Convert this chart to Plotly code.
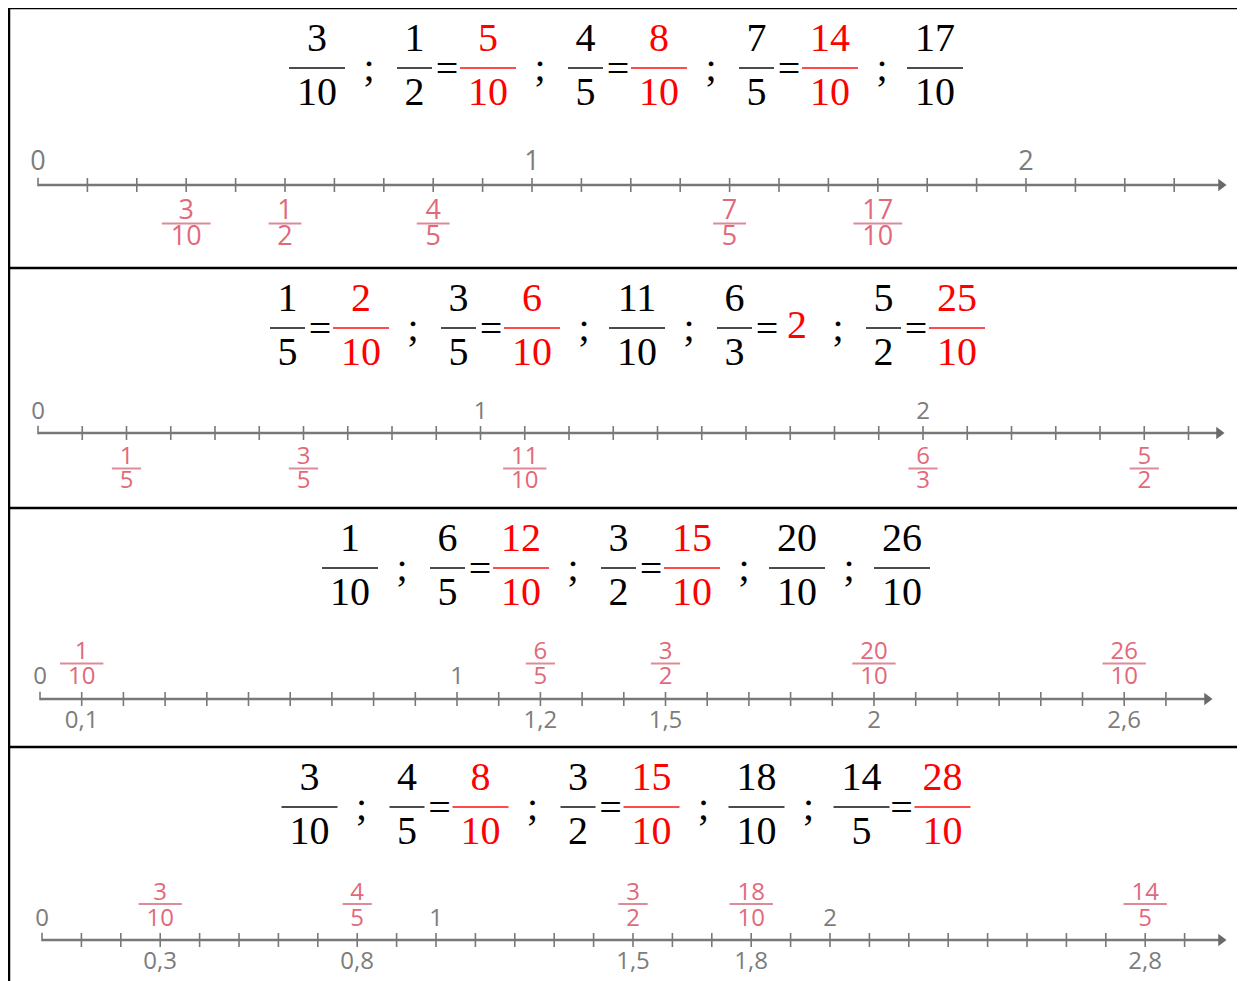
import plotly.graph_objects as go

W, H = 1245, 981
OFF = 8  # page body margin in the browser: shift the pixel scales so marks land where intended

# ---------------- data ----------------
# equation rows ("*" marks a red term)
row1_eq = "3/10 ; 1/2 = *5/10 ; 4/5 = *8/10 ; 7/5 = *14/10 ; 17/10"
row2_eq = "1/5 = *2/10 ; 3/5 = *6/10 ; 11/10 ; 6/3 = *2 ; 5/2 = *25/10"
row3_eq = "1/10 ; 6/5 = *12/10 ; 3/2 = *15/10 ; 20/10 ; 26/10"
row4_eq = "3/10 ; 4/5 = *8/10 ; 3/2 = *15/10 ; 18/10 ; 14/5 = *28/10"

line1_num = [3, 1, 4, 7, 17]
line1_den = [10, 2, 5, 5, 10]
line1_int = [0, 1, 2]

line2_num = [1, 3, 11, 6, 5]
line2_den = [5, 5, 10, 3, 2]
line2_int = [0, 1, 2]

line3_num = [1, 6, 3, 20, 26]
line3_den = [10, 5, 2, 10, 10]
line3_int = [0, 1]
line3_dec = [0.1, 1.2, 1.5, 2, 2.6]
line3_dec_lbl = ["0,1", "1,2", "1,5", "2", "2,6"]

line4_num = [3, 4, 3, 18, 14]
line4_den = [10, 5, 2, 10, 5]
line4_int = [0, 1, 2]
line4_dec = [0.3, 0.8, 1.5, 1.8, 2.8]
line4_dec_lbl = ["0,3", "0,8", "1,5", "1,8", "2,8"]

tick_step = 0.1
line_ticks_max = [2.3, 2.6, 2.7, 2.9]

# ---------------- styles ----------------
BLACK = "#000000"
RED = "#ff0000"
PINK = "#e2697a"
PINK_BAR = "#d25a6a"
GRAY = "#7c7c7c"
AXIS = "#787878"
SERIF = "Liberation Serif, Times New Roman, serif"
SANS = "Open Sans, Noto Sans, sans-serif"

panels = [
    dict(num=line1_num, den=line1_den, ints=line1_int, dec=None, dec_lbl=None,
         tmax=line_ticks_max[0], origin=38, unit=494, axis_y=185, tip=1227, fs=27,
         d_int=-22, d_num=27, d_bar=38.5, d_den=53, d_dec=None, eq=row1_eq, bar_y=68),
    dict(num=line2_num, den=line2_den, ints=line2_int, dec=None, dec_lbl=None,
         tmax=line_ticks_max[1], origin=38, unit=442.5, axis_y=433, tip=1225, fs=24,
         d_int=-20, d_num=24.5, d_bar=35.5, d_den=49, d_dec=None, eq=row2_eq, bar_y=328),
    dict(num=line3_num, den=line3_den, ints=line3_int, dec=line3_dec, dec_lbl=line3_dec_lbl,
         tmax=line_ticks_max[2], origin=40, unit=417, axis_y=699, tip=1213, fs=24,
         d_int=-21.5, d_num=-46, d_bar=-35.5, d_den=-21.5, d_dec=22.5, eq=row3_eq, bar_y=568),
    dict(num=line4_num, den=line4_den, ints=line4_int, dec=line4_dec, dec_lbl=line4_dec_lbl,
         tmax=line_ticks_max[3], origin=42, unit=394, axis_y=940, tip=1227, fs=24,
         d_int=-20.5, d_num=-46.5, d_bar=-36, d_den=-20.5, d_dec=23, eq=row4_eq, bar_y=807),
]

EQ_FS = 40
EQ_CENTER = 626
SEMI_L, SEMI_R = 32, 33
EQ_L, EQ_R = 20, 21
INT_W = 18


def frac_w(a, b):
    return 10 + 15 * max(len(a), len(b))


def layout_eq(s):
    items = []
    cur = 0.0
    for t in s.split():
        if t == ";":
            cur += SEMI_L
            items.append(dict(k=";", x=cur))
            cur += SEMI_R
        elif t == "=":
            cur += EQ_L
            items.append(dict(k="=", x=cur))
            cur += EQ_R
        else:
            red = t.startswith("*")
            t = t.lstrip("*")
            if "/" in t:
                a, b = t.split("/")
                w = frac_w(a, b)
                items.append(dict(k="f", x=cur + w / 2, a=a, b=b, w=w, red=red))
                cur += w
            else:
                items.append(dict(k="i", x=cur + INT_W / 2, a=t, red=red))
                cur += INT_W
    shift = EQ_CENTER - cur / 2
    for it in items:
        it["x"] += shift
    return items


fig = go.Figure()

# ---------------- equations (pixel x axis) ----------------
for p in panels:
    items = layout_eq(p["eq"])
    by = p["bar_y"]
    fr = [it for it in items if it["k"] == "f"]
    cols = [RED if it["red"] else BLACK for it in fr]
    fig.add_trace(go.Scatter(x=[it["x"] for it in fr], y=[by - 27] * len(fr),
                             text=[it["a"] for it in fr], mode="text",
                             textfont=dict(family=SERIF, size=EQ_FS, color=cols),
                             xaxis="x", yaxis="y", hoverinfo="skip", cliponaxis=False))
    fig.add_trace(go.Scatter(x=[it["x"] for it in fr], y=[by + 27] * len(fr),
                             text=[it["b"] for it in fr], mode="text",
                             textfont=dict(family=SERIF, size=EQ_FS, color=cols),
                             xaxis="x", yaxis="y", hoverinfo="skip", cliponaxis=False))
    fig.add_trace(go.Scatter(x=[it["x"] for it in fr], y=[by] * len(fr), mode="markers",
                             marker=dict(symbol="line-ew", size=[it["w"] for it in fr],
                                         line=dict(width=2, color=cols)),
                             xaxis="x", yaxis="y", hoverinfo="skip", cliponaxis=False))
    ints = [it for it in items if it["k"] == "i"]
    if ints:
        fig.add_trace(go.Scatter(x=[it["x"] for it in ints], y=[by] * len(ints),
                                 text=[it["a"] for it in ints], mode="text",
                                 textfont=dict(family=SERIF, size=EQ_FS,
                                               color=[RED if it["red"] else BLACK for it in ints]),
                                 xaxis="x", yaxis="y", hoverinfo="skip", cliponaxis=False))
    eqs = [it for it in items if it["k"] == "="]
    fig.add_trace(go.Scatter(x=[it["x"] for it in eqs], y=[by + 4] * len(eqs),
                             text=["="] * len(eqs), mode="text",
                             textfont=dict(family=SERIF, size=EQ_FS, color=BLACK),
                             xaxis="x", yaxis="y", hoverinfo="skip", cliponaxis=False))
    semis = [it for it in items if it["k"] == ";"]
    fig.add_trace(go.Scatter(x=[it["x"] for it in semis], y=[by + 3] * len(semis),
                             text=[";"] * len(semis), mode="text",
                             textfont=dict(family=SERIF, size=EQ_FS, color=BLACK),
                             xaxis="x", yaxis="y", hoverinfo="skip", cliponaxis=False))

# ---------------- number lines ----------------
for i, p in enumerate(panels):
    xa = "x%d" % (i + 2)
    ay = p["axis_y"]
    arrow_c = (p["tip"] - 6 - p["origin"]) / p["unit"]
    # axis line
    fig.add_trace(go.Scatter(x=[0, arrow_c], y=[ay, ay], mode="lines",
                             line=dict(color=AXIS, width=2.5),
                             xaxis=xa, yaxis="y", hoverinfo="skip"))
    # arrow head
    fig.add_trace(go.Scatter(x=[arrow_c], y=[ay], mode="markers",
                             marker=dict(symbol="triangle-right", size=11, color="#6a6a6a",
                                         line=dict(width=0)),
                             xaxis=xa, yaxis="y", hoverinfo="skip"))
    # ticks
    n = int(round(p["tmax"] / tick_step))
    tv = [round(k * tick_step, 6) for k in range(1, n + 1)]
    fig.add_trace(go.Scatter(x=tv, y=[ay] * len(tv), mode="markers",
                             marker=dict(symbol="line-ns", size=10,
                                         line=dict(width=1.6, color=AXIS)),
                             xaxis=xa, yaxis="y", hoverinfo="skip"))
    fig.add_trace(go.Scatter(x=[0], y=[ay - 3], mode="markers",
                             marker=dict(symbol="line-ns", size=6,
                                         line=dict(width=1.6, color=AXIS)),
                             xaxis=xa, yaxis="y", hoverinfo="skip"))
    # integer labels
    fig.add_trace(go.Scatter(x=p["ints"], y=[ay + p["d_int"]] * len(p["ints"]),
                             text=[str(v) for v in p["ints"]], mode="text",
                             textfont=dict(family=SANS, size=p["fs"], color=GRAY),
                             xaxis=xa, yaxis="y", hoverinfo="skip", cliponaxis=False))
    # decimal labels
    if p["dec"]:
        fig.add_trace(go.Scatter(x=p["dec"], y=[ay + p["d_dec"]] * len(p["dec"]),
                                 text=p["dec_lbl"], mode="text",
                                 textfont=dict(family=SANS, size=p["fs"], color=GRAY),
                                 xaxis=xa, yaxis="y", hoverinfo="skip", cliponaxis=False))
    # fraction labels
    vals = [a / b for a, b in zip(p["num"], p["den"])]
    fig.add_trace(go.Scatter(x=vals, y=[ay + p["d_num"]] * len(vals),
                             text=[str(a) for a in p["num"]], mode="text",
                             textfont=dict(family=SANS, size=p["fs"], color=PINK),
                             xaxis=xa, yaxis="y", hoverinfo="skip", cliponaxis=False))
    fig.add_trace(go.Scatter(x=vals, y=[ay + p["d_den"]] * len(vals),
                             text=[str(b) for b in p["den"]], mode="text",
                             textfont=dict(family=SANS, size=p["fs"], color=PINK),
                             xaxis=xa, yaxis="y", hoverinfo="skip", cliponaxis=False))
    bw = [p["fs"] * (0.45 + 0.42 * max(len(str(a)), len(str(b))))
          for a, b in zip(p["num"], p["den"])]
    fig.add_trace(go.Scatter(x=vals, y=[ay + p["d_bar"]] * len(vals), mode="markers",
                             marker=dict(symbol="line-ew", size=bw,
                                         line=dict(width=2, color=PINK_BAR)),
                             xaxis=xa, yaxis="y", hoverinfo="skip", cliponaxis=False))

# ---------------- frame ----------------
shapes = []
for yy in [8, 268, 508, 747]:
    shapes.append(dict(type="line", xref="x", yref="y", x0=8, x1=W + 20, y0=yy, y1=yy,
                       line=dict(color="black", width=2.5)))
shapes.append(dict(type="line", xref="x", yref="y", x0=9, x1=9, y0=7, y1=H + 20,
                   line=dict(color="black", width=2.5)))

layout = dict(
    width=W, height=H, margin=dict(l=0, r=0, t=0, b=0),
    paper_bgcolor="white", plot_bgcolor="white", showlegend=False,
    xaxis=dict(range=[OFF, W + OFF], visible=False, fixedrange=True, domain=[0, 1]),
    yaxis=dict(range=[H + OFF, OFF], visible=False, fixedrange=True, domain=[0, 1]),
    shapes=shapes,
)
for i, p in enumerate(panels):
    layout["xaxis%d" % (i + 2)] = dict(
        overlaying="x", anchor="y", visible=False, fixedrange=True,
        range=[(OFF - p["origin"]) / p["unit"], (W + OFF - p["origin"]) / p["unit"]])
fig.update_layout(**layout)

fig.write_html("out.html")
